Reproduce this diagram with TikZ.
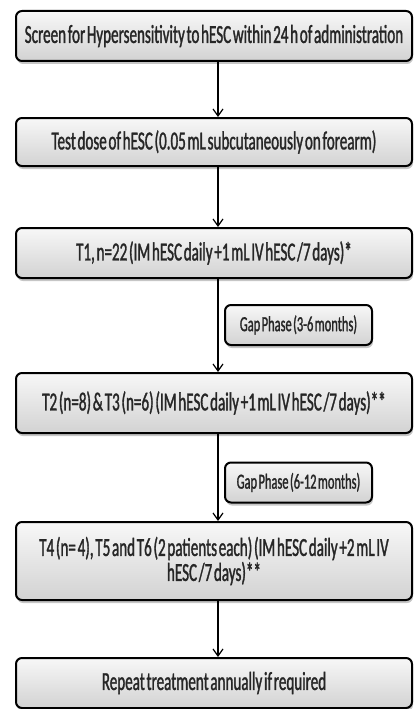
\documentclass[tikz,border=0pt]{standalone}
\usepackage{fontspec}
\setmainfont[FakeStretch=0.58, FakeBold=1.2, WordSpace=0.5]{Carlito}
\usetikzlibrary{arrows.meta,positioning,shadows}

\begin{document}
\begin{tikzpicture}[
    x=1pt, y=-1pt,
    stage/.style={draw, line width=2pt, rounded corners=6pt, top color=gray!6, bottom color=gray!35,
        drop shadow={shadow xshift=1pt, shadow yshift=-3pt, opacity=0.45},
        minimum width=396pt, align=center, inner sep=0pt, text=black!85,
        font=\fontsize{26}{25}\selectfont},
    gap/.style={stage, minimum width=147pt, minimum height=40pt, font=\fontsize{21.5}{22}\selectfont},
    arrow/.style={-{Straight Barb[length=7pt,width=10pt]}, line width=1.2pt}
]
\useasboundingbox (0,0) rectangle (415,709);

% Screening and test dose
\node[stage, minimum height=50pt] (screen) at (214,36) {Screen for Hypersensitivity to hESC within 24 h of administration};
\node[stage, minimum height=48pt] (test) at (214,142) {Test dose of hESC (0.05 mL subcutaneously on forearm)};

% Treatments
\node[stage, minimum height=50pt] (t1) at (214,253) {T1, n=22 (IM hESC daily +1 mL IV hESC /7 days)*};
\node[gap] (gap1) at (298.5,325) {Gap Phase (3-6 months)};
\node[stage, minimum height=60pt] (t23) at (214,403) {T2 (n=8) \& T3 (n=6) (IM hESC daily +1 mL IV hESC /7 days)**};
\node[gap] (gap2) at (298.5,482.5) {Gap Phase (6-12 months)};
\node[stage, minimum height=78pt] (t456) at (214,561) {T4 (n= 4), T5 and T6 (2 patients each) (IM hESC daily +2 mL IV\\hESC /7 days)**};

% Repeat
\node[stage, minimum height=50pt] (repeat) at (214,683) {Repeat treatment annually if required};

% Connections
\draw[arrow] ([xshift=4pt]screen.south) -- ([xshift=4pt]test.north);
\draw[arrow] ([xshift=4pt]test.south) -- ([xshift=4pt]t1.north);
\draw[arrow] ([xshift=4pt]t1.south) -- ([xshift=4pt]t23.north);
\draw[arrow] ([xshift=4pt]t23.south) -- ([xshift=4pt]t456.north);
\draw[arrow] ([xshift=4pt]t456.south) -- ([xshift=4pt]repeat.north);

\end{tikzpicture}
\end{document}
